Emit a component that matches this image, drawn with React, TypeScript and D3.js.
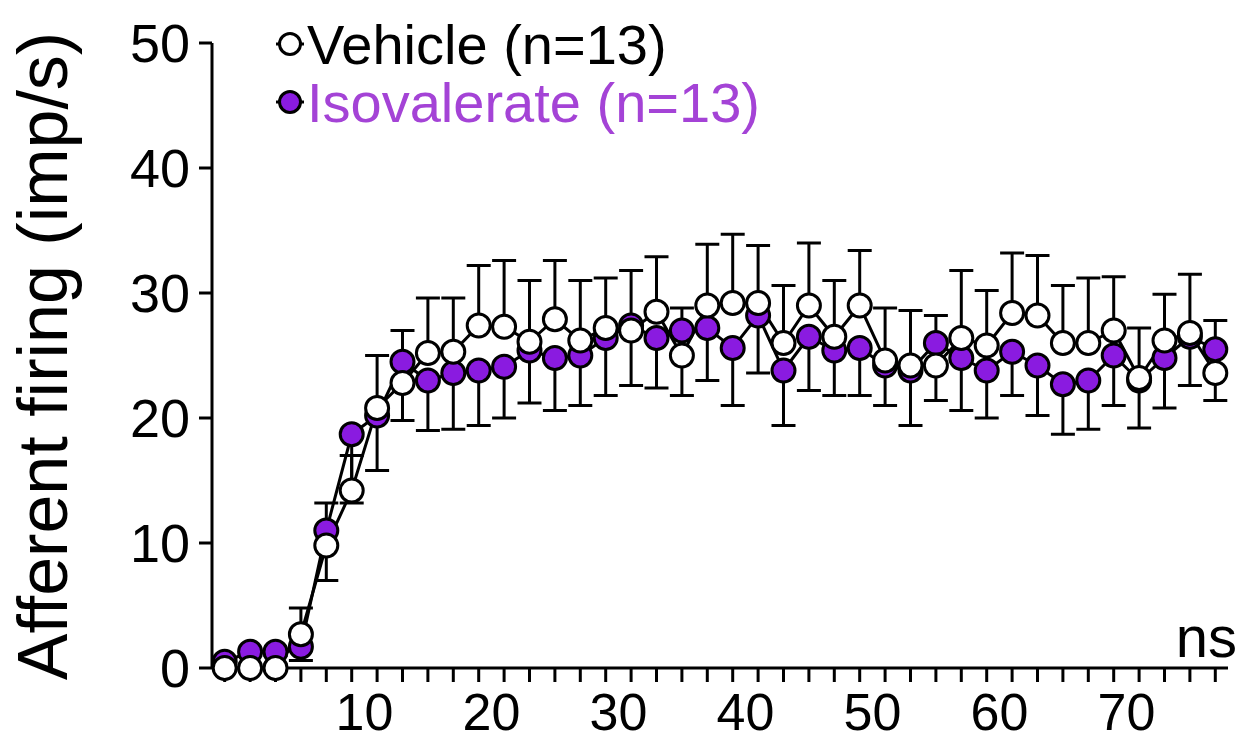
import React, { useEffect, useRef } from "react";
import * as d3 from "d3";

// x positions of the 40 bins (2-unit steps)
const binCenters = [
  -1, 1, 3, 5, 7, 9, 11, 13, 15, 17, 19, 21, 23, 25, 27, 29, 31, 33, 35, 37,
  39, 41, 43, 45, 47, 49, 51, 53, 55, 57, 59, 61, 63, 65, 67, 69, 71, 73, 75, 77,
];

const vehicleMean = [
  0, 0, 0, 2.7, 9.8, 14.2, 20.8, 22.8, 25.2, 25.3, 27.4, 27.3, 26.1, 27.9, 26.2,
  27.2, 27.0, 28.5, 25.0, 29.0, 29.2, 29.2, 26.0, 29.0, 26.5, 29.0, 24.6, 24.2,
  24.2, 26.4, 25.8, 28.4, 28.2, 26.0, 26.0, 27.0, 23.2, 26.2, 26.8, 23.6,
];
const vehicleSem = [
  0.3, 0.3, 0.3, 2.1, 3.4, 2.8, 4.2, 4.2, 4.4, 4.3, 4.8, 5.3, 4.9, 4.7, 4.8, 4.0,
  4.8, 4.4, 3.8, 4.9, 5.5, 4.6, 4.6, 5.0, 4.5, 4.4, 4.2, 4.4, 4.0, 5.4, 4.4, 4.8,
  4.8, 4.6, 5.2, 4.3, 4.0, 3.7, 4.7, 4.2,
];

const isoMean = [
  0.5, 1.3, 1.3, 1.7, 11.0, 18.7, 20.2, 24.5, 23.0, 23.6, 23.8, 24.1, 25.4, 24.8,
  25.0, 26.4, 27.4, 26.4, 27.0, 27.2, 25.6, 28.2, 23.8, 26.5, 25.4, 25.6, 24.2,
  23.8, 26.0, 24.8, 23.8, 25.3, 24.2, 22.7, 23.0, 25.0, 23.0, 24.8, 26.5, 25.5,
];
const isoSem = [
  0.3, 0.3, 0.3, 1.1, 4.0, 5.5, 4.4, 4.7, 4.0, 4.5, 4.4, 4.1, 4.2, 4.2, 4.0, 4.6,
  4.8, 4.0, 5.2, 4.2, 4.6, 4.6, 4.4, 4.3, 3.6, 3.8, 3.2, 4.4, 4.6, 4.2, 3.8, 3.5,
  4.0, 4.0, 3.9, 4.0, 3.8, 4.0, 3.9, 4.1,
];

const xTickLabels = [10, 20, 30, 40, 50, 60, 70];
const yTickValues = [0, 10, 20, 30, 40, 50];

const seriesNames = ["Vehicle (n=13)", "Isovalerate (n=13)"];

const FONT = "'Liberation Sans', Arial, Helvetica, sans-serif";
const PURPLE = "#8a1be0";
const PURPLE_TEXT = "#a443d6";
const SW = 3;

const App = () => {
  const chartRef = useRef(null);

  useEffect(() => {
    if (chartRef.current) {
      drawChart(chartRef.current);
    }
  }, []);

  const drawChart = (container) => {
    d3.select(container).selectAll("*").remove();

    const width = 1247;
    const height = 741;

    const svg = d3
      .select(container)
      .append("svg")
      .attr("width", width)
      .attr("height", height)
      .style("position", "absolute")
      .style("left", 0)
      .style("top", 0)
      .style("background", "#fff");

    // scales
    const x = d3.scaleLinear().domain([-2, 78]).range([212, 1228]);
    const y = d3.scaleLinear().domain([0, 50]).range([668, 43]);

    // y axis
    const yAxis = svg.append("g").attr("transform", `translate(${x(-2)},0)`);
    yAxis
      .append("line")
      .attr("y1", y(0))
      .attr("y2", y(50))
      .attr("stroke", "#000")
      .attr("stroke-width", SW);
    yAxis
      .selectAll(".ytick")
      .data(yTickValues)
      .enter()
      .append("line")
      .attr("x1", -13)
      .attr("x2", 0)
      .attr("y1", (d) => y(d))
      .attr("y2", (d) => y(d))
      .attr("stroke", "#000")
      .attr("stroke-width", SW);
    yAxis
      .selectAll(".ylabel")
      .data(yTickValues)
      .enter()
      .append("text")
      .attr("x", -22)
      .attr("y", (d) => y(d))
      .attr("dy", "0.36em")
      .attr("text-anchor", "end")
      .attr("font-family", FONT)
      .attr("font-size", 54)
      .text((d) => d);

    // x axis
    const xAxis = svg.append("g").attr("transform", `translate(0,${y(0)})`);
    xAxis
      .append("line")
      .attr("x1", x(-2))
      .attr("x2", x(78))
      .attr("stroke", "#000")
      .attr("stroke-width", SW);
    xAxis
      .selectAll(".xtick")
      .data(binCenters)
      .enter()
      .append("line")
      .attr("x1", (d) => x(d))
      .attr("x2", (d) => x(d))
      .attr("y1", 0)
      .attr("y2", 14)
      .attr("stroke", "#000")
      .attr("stroke-width", SW);
    xAxis
      .selectAll(".xlabel")
      .data(xTickLabels)
      .enter()
      .append("text")
      .attr("x", (d) => x(d))
      .attr("y", 62)
      .attr("text-anchor", "middle")
      .attr("font-family", FONT)
      .attr("font-size", 52)
      .text((d) => d);

    // axis title
    svg
      .append("text")
      .attr("transform", `translate(67,356) rotate(-90)`)
      .attr("text-anchor", "middle")
      .attr("font-family", FONT)
      .attr("font-size", 70)
      .text("Afferent firing (imp/s)");

    // ns label
    svg
      .append("text")
      .attr("x", 1237)
      .attr("y", 657)
      .attr("text-anchor", "end")
      .attr("font-family", FONT)
      .attr("font-size", 58)
      .text("ns");

    const vehicle = binCenters.map((t, i) => ({ t, m: vehicleMean[i], e: vehicleSem[i] }));
    const iso = binCenters.map((t, i) => ({ t, m: isoMean[i], e: isoSem[i] }));

    const line = d3
      .line()
      .x((d) => x(d.t))
      .y((d) => y(d.m));

    const plot = svg.append("g");

    // error bars: vehicle up, isovalerate down
    const drawErr = (data, dir) => {
      const g = plot.append("g").attr("stroke", "#000").attr("stroke-width", SW);
      g.selectAll("line.v")
        .data(data)
        .enter()
        .append("line")
        .attr("x1", (d) => x(d.t))
        .attr("x2", (d) => x(d.t))
        .attr("y1", (d) => y(d.m))
        .attr("y2", (d) => y(d.m + dir * d.e));
      g.selectAll("line.c")
        .data(data)
        .enter()
        .append("line")
        .attr("x1", (d) => x(d.t) - 12)
        .attr("x2", (d) => x(d.t) + 12)
        .attr("y1", (d) => y(d.m + dir * d.e))
        .attr("y2", (d) => y(d.m + dir * d.e));
    };
    drawErr(vehicle, 1);
    drawErr(iso, -1);

    // connecting lines
    [iso, vehicle].forEach((data) => {
      plot
        .append("path")
        .datum(data)
        .attr("d", line)
        .attr("fill", "none")
        .attr("stroke", "#000")
        .attr("stroke-width", SW);
    });

    // markers: isovalerate first, vehicle on top
    plot
      .selectAll(".iso")
      .data(iso)
      .enter()
      .append("circle")
      .attr("cx", (d) => x(d.t))
      .attr("cy", (d) => y(d.m))
      .attr("r", 11.5)
      .attr("fill", PURPLE)
      .attr("stroke", "#000")
      .attr("stroke-width", SW);
    plot
      .selectAll(".veh")
      .data(vehicle)
      .enter()
      .append("circle")
      .attr("cx", (d) => x(d.t))
      .attr("cy", (d) => y(d.m))
      .attr("r", 11.5)
      .attr("fill", "#fff")
      .attr("stroke", "#000")
      .attr("stroke-width", SW);

    // legend
    const legend = svg.append("g");
    const legendRows = [
      { name: seriesNames[0], fill: "#fff", color: "#000", cy: 44 },
      { name: seriesNames[1], fill: PURPLE, color: PURPLE_TEXT, cy: 102 },
    ];
    legendRows.forEach((row) => {
      legend
        .append("line")
        .attr("x1", 276)
        .attr("x2", 304)
        .attr("y1", row.cy)
        .attr("y2", row.cy)
        .attr("stroke", "#000")
        .attr("stroke-width", SW);
      legend
        .append("circle")
        .attr("cx", 290)
        .attr("cy", row.cy)
        .attr("r", 10.5)
        .attr("fill", row.fill)
        .attr("stroke", "#000")
        .attr("stroke-width", SW);
      legend
        .append("text")
        .attr("x", 307)
        .attr("y", row.cy + 20)
        .attr("font-family", FONT)
        .attr("font-size", 56)
        .attr("fill", row.color)
        .text(row.name);
    });
  };

  return <div ref={chartRef} />;
};

export default App;
